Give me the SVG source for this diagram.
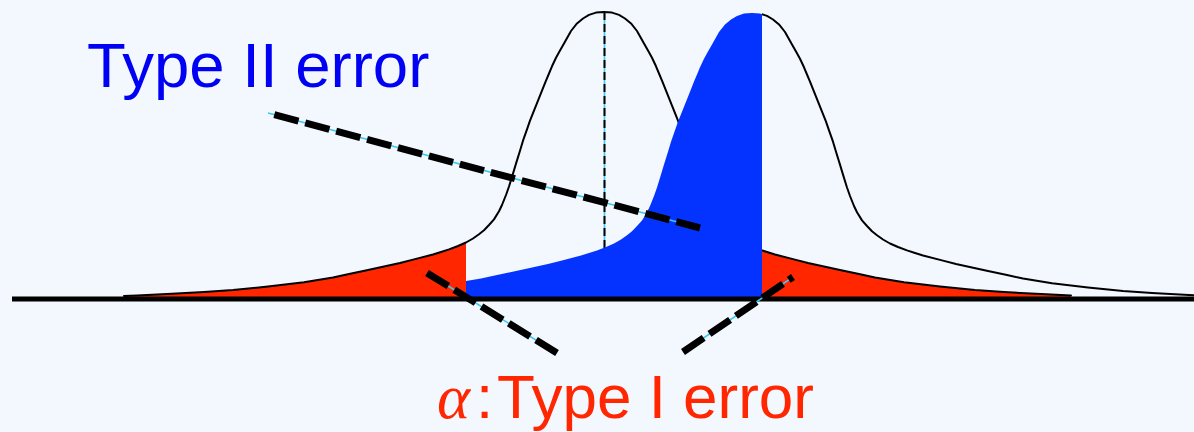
<svg xmlns="http://www.w3.org/2000/svg" xmlns:xlink="http://www.w3.org/1999/xlink" width="1194" height="432" viewBox="0 0 1194 432">
  <style>
    .curve { fill: none; stroke: #000; stroke-width: 2; stroke-linejoin: round; stroke-linecap: round; }
    .red { fill: #ff2600; }
    .blue { fill: #0433ff; }
    .guide { stroke: #3cc8f0; stroke-width: 1.6; fill: none; }
    .dash { stroke: #000; stroke-width: 7; stroke-dasharray: 25 7; fill: none; }
    .vdash { stroke: #000; stroke-width: 2; stroke-dasharray: 8 4; fill: none; }
    .sans { font-family: "Liberation Sans", Arial, sans-serif; }
  </style>
  <defs>
    <path id="bell" d="M-480,296 L-467,295.5 L-437,294 L-400,292 L-371,290 L-336,286.6 L-300,282.3 L-271,277.5 L-255,274 L-236,270 L-220,266.5 L-204,263 L-190,259.4 L-171,254.5 L-163,252 L-155,249.4 L-146,246 L-138,242.5 L-131,238.5 L-125,234.2 L-120,230.2 L-115,225 L-110,219.4 L-105,211.3 L-102,205 L-98,195 L-95,186.5 L-91,173.6 L-88,163.6 L-84,150.7 L-81,140.7 L-77,129.3 L-74,120.7 L-70,110.7 L-66,100.7 L-62,90.7 L-58,80.6 L-55,73.5 L-52,66.3 L-48,57.8 L-44,50.6 L-40,43.5 L-33,31 L-27,23.4 L-21,18.5 L-15,14.9 L-8,12.6 L0,12 L8,12.6 L15,14.9 L21,18.5 L27,23.4 L33,31 L40,43.5 L44,50.6 L48,57.8 L52,66.3 L55,73.5 L58,80.6 L62,90.7 L66,100.7 L70,110.7 L74,120.7 L77,129.3 L81,140.7 L84,150.7 L88,163.6 L91,173.6 L95,186.5 L98,195 L102,205 L105,211.3 L110,219.4 L115,225 L120,230.2 L125,234.2 L131,238.5 L138,242.5 L146,246 L155,249.4 L163,252 L171,254.5 L190,259.4 L204,263 L220,266.5 L236,270 L255,274 L271,277.5 L300,282.3 L336,286.6 L371,290 L400,292 L437,294 L467,295.5"/>
    <path id="bellArea" d="M-480,298 L-480,296 L-467,295.5 L-437,294 L-400,292 L-371,290 L-336,286.6 L-300,282.3 L-271,277.5 L-255,274 L-236,270 L-220,266.5 L-204,263 L-190,259.4 L-171,254.5 L-163,252 L-155,249.4 L-146,246 L-138,242.5 L-131,238.5 L-125,234.2 L-120,230.2 L-115,225 L-110,219.4 L-105,211.3 L-102,205 L-98,195 L-95,186.5 L-91,173.6 L-88,163.6 L-84,150.7 L-81,140.7 L-77,129.3 L-74,120.7 L-70,110.7 L-66,100.7 L-62,90.7 L-58,80.6 L-55,73.5 L-52,66.3 L-48,57.8 L-44,50.6 L-40,43.5 L-33,31 L-27,23.4 L-21,18.5 L-15,14.9 L-8,12.6 L0,12 L8,12.6 L15,14.9 L21,18.5 L27,23.4 L33,31 L40,43.5 L44,50.6 L48,57.8 L52,66.3 L55,73.5 L58,80.6 L62,90.7 L66,100.7 L70,110.7 L74,120.7 L77,129.3 L81,140.7 L84,150.7 L88,163.6 L91,173.6 L95,186.5 L98,195 L102,205 L105,211.3 L110,219.4 L115,225 L120,230.2 L125,234.2 L131,238.5 L138,242.5 L146,246 L155,249.4 L163,252 L171,254.5 L190,259.4 L204,263 L220,266.5 L236,270 L255,274 L271,277.5 L300,282.3 L336,286.6 L371,290 L400,292 L437,294 L467,295.5 L467,298 Z"/>
    <clipPath id="leftTail"><rect x="0" y="0" width="466" height="432"/></clipPath>
    <clipPath id="rightTail"><rect x="762" y="0" width="432" height="432"/></clipPath>
    <clipPath id="middle"><rect x="466" y="0" width="296" height="432"/></clipPath>
  </defs>

  <rect id="background" x="0" y="0" width="1194" height="432" fill="#f3f8fe"/>

  <g id="alternative-curve" clip-path="url(#rightTail)">
    <use xlink:href="#bell" class="curve" transform="translate(752,1)"/>
  </g>

  <g id="alpha-tails">
    <g clip-path="url(#leftTail)">
      <use xlink:href="#bellArea" class="red" transform="translate(604,0)"/>
    </g>
    <g clip-path="url(#rightTail)">
      <use xlink:href="#bellArea" class="red" transform="translate(604,0)"/>
    </g>
  </g>

  <g id="null-curve">
    <use xlink:href="#bell" class="curve" transform="translate(604,0)"/>
  </g>

  <g id="mean-line">
    <line class="guide" x1="604.5" y1="12" x2="604.5" y2="298"/>
    <line class="vdash" x1="604.5" y1="12" x2="604.5" y2="298"/>
  </g>

  <g id="beta-area" clip-path="url(#middle)">
    <use xlink:href="#bellArea" class="blue" transform="translate(752,1)"/>
  </g>

  <g id="axis">
    <line x1="12" y1="299" x2="1194" y2="299" stroke="#000" stroke-width="5"/>
  </g>

  <g id="connectors">
    <line class="guide" x1="268" y1="113" x2="700" y2="228"/>
    <line class="dash" x1="274.3" y1="114.7" x2="700" y2="228"/>
    <line class="guide" x1="427" y1="273" x2="557" y2="353"/>
    <line class="dash" x1="427" y1="273" x2="557" y2="353"/>
    <line class="guide" x1="683" y1="352" x2="793" y2="277"/>
    <line class="dash" x1="683" y1="352" x2="793" y2="277"/>
  </g>

  <g id="label-type2">
    <text class="sans" x="87" y="87" font-size="63.5" fill="#0000f5">Type II error</text>
  </g>

  <g id="label-type1">
    <text y="418" fill="#ff2600"><tspan x="437" font-family="'Liberation Serif', 'Times New Roman', serif" font-style="italic" font-size="63">α</tspan><tspan x="476" class="sans" font-size="62">:</tspan><tspan x="497" class="sans" font-size="62">Type I error</tspan></text>
  </g>
</svg>
